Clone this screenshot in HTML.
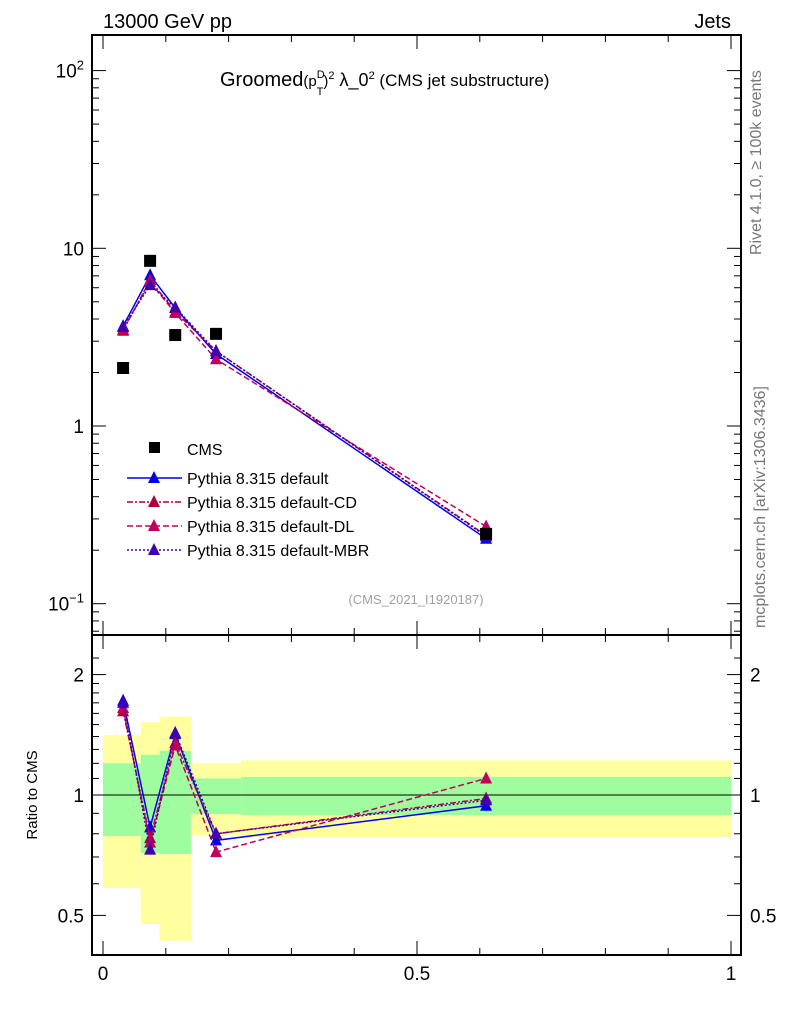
<!DOCTYPE html>
<html><head><meta charset="utf-8"><style>
body{margin:0;background:#fff;}
svg text{font-family:"Liberation Sans",sans-serif;}
</style></head><body>
<svg id="chart" width="786" height="1024" xmlns="http://www.w3.org/2000/svg">
<g id="bands"></g>
<g id="frame"></g>
<g id="series"></g>
<text x="103" y="28" font-size="20">13000 GeV pp</text>
<text x="731" y="28" font-size="20" text-anchor="end">Jets</text>
<text x="220" y="86" font-size="20">Groomed<tspan font-size="15">(p</tspan><tspan font-size="11" dy="-8">D</tspan><tspan font-size="11" dx="-8" dy="17">T</tspan><tspan font-size="15" dy="-9">)</tspan><tspan font-size="11" dy="-7">2</tspan><tspan font-size="18" dy="7"> λ_0</tspan><tspan font-size="11" dy="-7">2</tspan><tspan font-size="17" dy="7"> (CMS jet substructure)</tspan></text>
<text x="416" y="604" font-size="13" fill="#a0a0a0" text-anchor="middle">(CMS_2021_I1920187)</text>
<text transform="translate(761,255) rotate(-90)" font-size="16" fill="#777">Rivet 4.1.0, ≥ 100k events</text>
<text transform="translate(765,628) rotate(-90)" font-size="16" fill="#777">mcplots.cern.ch [arXiv:1306.3436]</text>
<text transform="translate(37,795) rotate(-90)" font-size="15" text-anchor="middle">Ratio to CMS</text>
<g id="legend"></g>
</svg>
<script>
const binEdges=[0,0.06,0.09,0.14,0.22,1.0];
const yellowLo=[0.586,0.476,0.432,0.794,0.785];
const yellowHi=[1.41,1.52,1.57,1.20,1.22];
const greenLo=[0.79,0.716,0.712,0.896,0.891];
const greenHi=[1.20,1.26,1.29,1.10,1.11];
const xVals=[0.032,0.075,0.115,0.18,0.61];
const cmsVals=[2.12,8.5,3.25,3.3,0.247];
const ratioDefault=[1.72,0.83,1.42,0.77,0.94];
const ratioCD=[1.62,0.78,1.35,0.80,0.98];
const ratioDL=[1.65,0.76,1.33,0.72,1.10];
const ratioMBR=[1.70,0.73,1.43,0.80,0.97];
const mainTicks=[0.1,1,10,100];
const ratioTicks=[0.5,1,2];
const xTicks=[0,0.5,1];

const NS="http://www.w3.org/2000/svg";
const X=v=>103+628*v;
const Y=v=>426-177.7*Math.log10(v);
const R=v=>795-400*Math.log10(v);
function mk(tag,attrs,parent){const e=document.createElementNS(NS,tag);for(const k in attrs)e.setAttribute(k,attrs[k]);parent.appendChild(e);return e;}
const bands=document.getElementById('bands'),frame=document.getElementById('frame'),series=document.getElementById('series'),legend=document.getElementById('legend');

for(let i=0;i<5;i++){
  const x0=X(binEdges[i]),x1=X(binEdges[i+1]);
  const yb=mk('rect',{x:x0,y:R(yellowHi[i]),width:x1-x0,height:R(yellowLo[i])-R(yellowHi[i]),fill:'#ffff9f'},bands);
  
  
  const gb=mk('rect',{x:x0,y:R(greenHi[i]),width:x1-x0,height:R(greenLo[i])-R(greenHi[i]),fill:'#9ffc9f'},bands);
  
  
}
mk('rect',{x:92,y:35,width:649,height:600,fill:'none',stroke:'#000','stroke-width':2},frame);
mk('rect',{x:92,y:635,width:649,height:320,fill:'none',stroke:'#000','stroke-width':2},frame);
mk('line',{x1:92,x2:741,y1:R(1),y2:R(1),stroke:'#000','stroke-width':1},frame);
for(let d=-2;d<=2;d++){for(let m=1;m<10;m++){const v=m*Math.pow(10,d);const y=Y(v);if(y<36||y>634)continue;const L=m==1?14:7;
 mk('line',{x1:92,x2:92+L,y1:y,y2:y,stroke:'#000'},frame);mk('line',{x1:741,x2:741-L,y1:y,y2:y,stroke:'#000'},frame);}}
mainTicks.forEach(v=>{const t=mk('text',{x:84,y:Y(v)+7,'font-size':19,'text-anchor':'end'},frame);
 
 
 if(v==100){t.innerHTML='10<tspan font-size="13" dy="-8">2</tspan>';}else if(v==0.1){t.innerHTML='10<tspan font-size="13" dy="-8">−1</tspan>';}else t.textContent=String(v);});
[0.4,0.5,0.6,0.7,0.8,0.9,1,1.1,1.2,1.3,1.4,1.5,1.6,1.7,1.8,1.9,2,2.2].forEach(v=>{const y=R(v);if(y<637||y>953)return;const L=ratioTicks.includes(v)?14:7;
 mk('line',{x1:92,x2:92+L,y1:y,y2:y,stroke:'#000'},frame);mk('line',{x1:741,x2:741-L,y1:y,y2:y,stroke:'#000'},frame);});
ratioTicks.forEach(v=>{[[84,'end'],[750,'start']].forEach(([x,a])=>{const t=mk('text',{x:x,y:R(v)+7,'font-size':19,'text-anchor':a},frame);
 
 
 t.textContent=String(v);});});
for(let i=0;i<=10;i++){const v=i/10,x=X(v),L=i%5==0?14:7;
 mk('line',{x1:x,x2:x,y1:955,y2:955-L,stroke:'#000'},frame);mk('line',{x1:x,x2:x,y1:635,y2:635-L,stroke:'#000'},frame);mk('line',{x1:x,x2:x,y1:35,y2:35+L,stroke:'#000'},frame);mk('line',{x1:x,x2:x,y1:635,y2:635+L,stroke:'#000'},frame);}
xTicks.forEach(v=>{const t=mk('text',{x:X(v),y:980,'font-size':19,'text-anchor':'middle'},frame);
 
 
 t.textContent=String(v);});

function tri(g,x,y,c){mk('polygon',{points:`${x},${y-7} ${x-6},${y+5} ${x+6},${y+5}`,fill:c},g);}
const defs=[['default',ratioDefault,'#0000ee','none'],['CD',ratioCD,'#b0003c','6,2,2,2'],['DL',ratioDL,'#c0005a','6,3'],['MBR',ratioMBR,'#4000b0','2,2']];
defs.forEach(([n,r,c,dash])=>{
 const g=mk('g',{},series);
 
 
 const pm=xVals.map((x,i)=>`${X(x)},${Y(r[i]*cmsVals[i])}`).join(' ');
 const pr=xVals.map((x,i)=>`${X(x)},${R(r[i])}`).join(' ');
 mk('polyline',{points:pm,fill:'none',stroke:c,'stroke-width':1.5,'stroke-dasharray':dash},g);
 mk('polyline',{points:pr,fill:'none',stroke:c,'stroke-width':1.5,'stroke-dasharray':dash},g);
 xVals.forEach((x,i)=>{tri(g,X(x),Y(r[i]*cmsVals[i]),c);tri(g,X(x),R(r[i]),c);
  mk('line',{x1:X(x),x2:X(x),y1:R(r[i]*1.03),y2:R(r[i]/1.03),stroke:c},g);});
});
const cg=mk('g',{},series);


xVals.forEach((x,i)=>mk('rect',{x:X(x)-6,y:Y(cmsVals[i])-6,width:12,height:12,fill:'#000'},cg));

mk('rect',{x:149,y:442,width:11,height:11,fill:'#000'},legend);
let t=mk('text',{x:187,y:455,'font-size':16},legend);t.textContent='CMS';
defs.forEach(([n,r,c,dash],i)=>{const y=478+i*24;
 mk('line',{x1:127,x2:182,y1:y,y2:y,stroke:c,'stroke-width':1.5,'stroke-dasharray':dash},legend);tri(legend,154,y,c);
 const tt=mk('text',{x:187,y:y+6,'font-size':16},legend);
 
 
 tt.textContent='Pythia 8.315 default'+(n=='default'?'':'-'+n);});
</script>
</body></html>
